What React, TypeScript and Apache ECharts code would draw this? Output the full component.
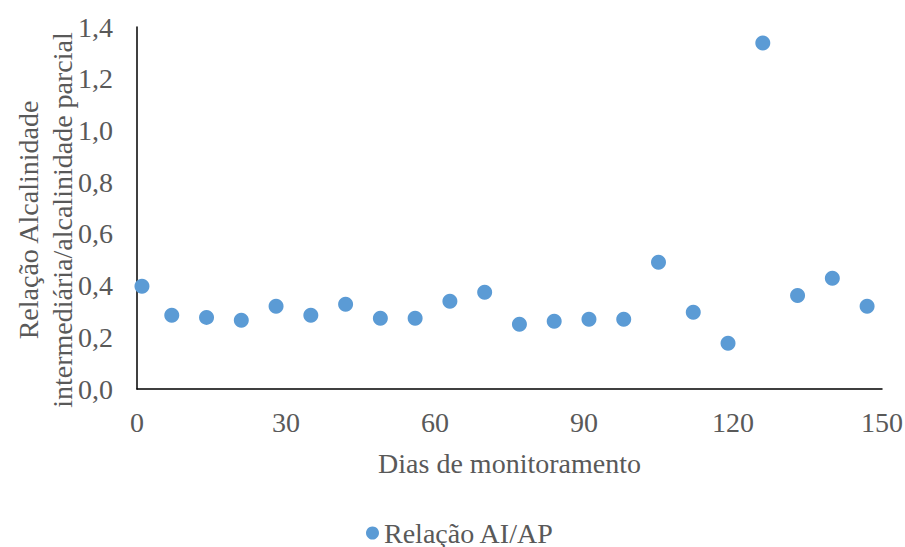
import React, { useEffect, useRef } from "react";
import * as echarts from "echarts";

const days = [1, 7, 14, 21, 28, 35, 42, 49, 56, 63, 70, 77, 84, 91, 98, 105, 112, 119, 126, 133, 140, 147];
const ratioAIAP = [0.397, 0.285, 0.277, 0.266, 0.32, 0.285, 0.328, 0.274, 0.274, 0.339, 0.374, 0.25, 0.262, 0.27, 0.27, 0.49, 0.297, 0.177, 1.338, 0.362, 0.428, 0.32];
const seriesName = "Relação AI/AP";
const xTitle = "Dias de monitoramento";
const yTitle = "Relação Alcalinidade\nintermediária/alcalinidade parcial";

const FONT = "Liberation Serif";
const GREY = "#595959";
const FS = 28;

export default function App() {
  const ref = useRef<HTMLDivElement>(null);
  useEffect(() => {
    if (!ref.current) return;
    const chart = echarts.init(ref.current, undefined, { renderer: "svg" });
    chart.setOption({
      animation: false,
      textStyle: { fontFamily: FONT },
      grid: {
        left: 137,
        right: 23,
        top: 27,
        bottom: 158,
        containLabel: false,
        outerBoundsMode: "none",
      },
      graphic: [
        {
          type: "text",
          x: 45,
          y: 220,
          rotation: Math.PI / 2,
          style: {
            text: yTitle,
            fill: GREY,
            fontSize: FS,
            fontFamily: FONT,
            lineHeight: 34,
            align: "center",
            verticalAlign: "middle",
          },
        },
      ],
      xAxis: {
        type: "value",
        min: 0,
        max: 150,
        interval: 30,
        name: xTitle,
        nameLocation: "middle",
        nameGap: 60,
        nameTextStyle: { color: GREY, fontSize: FS, fontFamily: FONT },
        axisLine: { show: true, lineStyle: { color: "#000", width: 1.5 } },
        axisTick: { show: false },
        splitLine: { show: false },
        axisLabel: { color: GREY, fontSize: FS, fontFamily: FONT, margin: 19 },
      },
      yAxis: {
        type: "value",
        min: 0,
        max: 1.4,
        interval: 0.2,
        axisLine: { show: true, lineStyle: { color: "#000", width: 1.5 } },
        axisTick: { show: false },
        splitLine: { show: false },
        axisLabel: {
          color: GREY,
          fontSize: FS,
          fontFamily: FONT,
          margin: 24,
          formatter: (v: number) => v.toFixed(1).replace(".", ","),
        },
      },
      legend: {
        bottom: -5,
        left: 361,
        icon: "circle",
        itemWidth: 13,
        itemHeight: 13,
        itemGap: 4,
        textStyle: { color: GREY, fontSize: FS, fontFamily: FONT, padding: [0, 0, 0, 0] },
        data: [seriesName],
      },
      series: [
        {
          name: seriesName,
          type: "scatter",
          symbol: "circle",
          symbolSize: 15,
          itemStyle: { color: "#5B9BD5", opacity: 1 },
          data: days.map((d, i) => [d, ratioAIAP[i]]),
        },
      ],
    });
    return () => chart.dispose();
  }, []);
  return (
    <div
      ref={ref}
      style={{ position: "fixed", left: 0, top: 0, width: 905, height: 547, background: "#fff" }}
    />
  );
}
